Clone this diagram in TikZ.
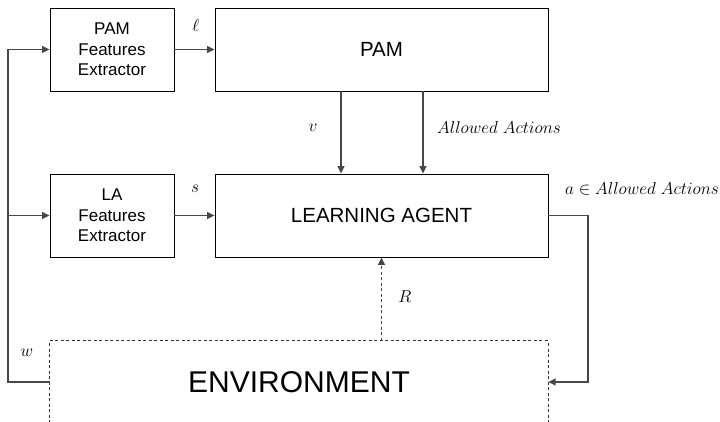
\documentclass[tikz,border=0pt]{standalone}
\usepackage{fontspec}
\setmainfont{Liberation Sans}
\usetikzlibrary{arrows.meta,calc}
\begin{document}
\begin{tikzpicture}[x=1pt,y=-1pt,
  box/.style={draw=black, line width=0.9pt, align=center, inner sep=0pt},
  smallbox/.style={box, minimum width=124pt, minimum height=83pt, font=\fontsize{17}{20.5}\selectfont},
  bigbox/.style={box, minimum width=333pt, minimum height=83pt, font=\fontsize{20.5}{24}\selectfont},
  conn/.style={draw=black!72, line width=1.1pt, -{Triangle[length=7.5pt,width=7pt]}},
  envline/.style={draw=black!80, line width=0.9pt, dash pattern=on 3pt off 2.5pt},
  lbl/.style={font=\fontsize{17.5}{20}\selectfont, inner sep=0pt}]
\useasboundingbox (0,0) rectangle (720,422);

% processing blocks
\node[smallbox] (pfe) at (112,49.5) {PAM\\Features\\Extractor};
\node[bigbox] (pam) at (381.5,49.5) {PAM};
\node[smallbox] (lafe) at (112,215.5) {LA\\Features\\Extractor};
\node[bigbox] (la) at (381.5,215.5) {LEARNING AGENT};

% environment: open at the bottom, dashed outline
\node[minimum width=498pt, minimum height=82pt, inner sep=0pt,
      font=\fontsize{30}{34}\selectfont] (env) at (299,382) {ENVIRONMENT};
\draw[envline] (env.south west) -- (env.north west) -- (env.north east) -- (env.south east);

% observation feedback w
\coordinate (fb) at (8,382);
\draw[conn] (env.west) -- (fb) |- (pfe.west);
\draw[conn] (fb |- lafe.west) -- (lafe.west);

% feature outputs
\draw[conn] (pfe.east) -- (pam.west);
\draw[conn] (lafe.east) -- (la.west);

% PAM outputs
\draw[conn] ([xshift=-40.5pt]pam.south) -- ([xshift=-40.5pt]la.north);
\draw[conn] ([xshift=41.5pt]pam.south) -- ([xshift=41.5pt]la.north);

% action to environment
\coordinate (act) at (588,215.5);
\draw[conn] (la.east) -- (act) |- (env.east);

% reward
\draw[conn, dash pattern=on 3pt off 2.5pt] (env.north -| la.south) -- (la.south);

% labels
\node[lbl] (lell) at (196,26) {$\ell$};
\node[lbl] (ls) at (195,189) {$s$};
\node[lbl] (lv) at (313,128) {$v$};
\node[lbl, anchor=west] (lallow) at (437,128) {$Allowed\ Actions$};
\node[lbl, anchor=west] (la2) at (565,189) {$a \in Allowed\ Actions$};
\node[lbl] (lR) at (405,297) {$R$};
\node[lbl] (lw) at (27,353) {$w$};
\end{tikzpicture}
\end{document}
